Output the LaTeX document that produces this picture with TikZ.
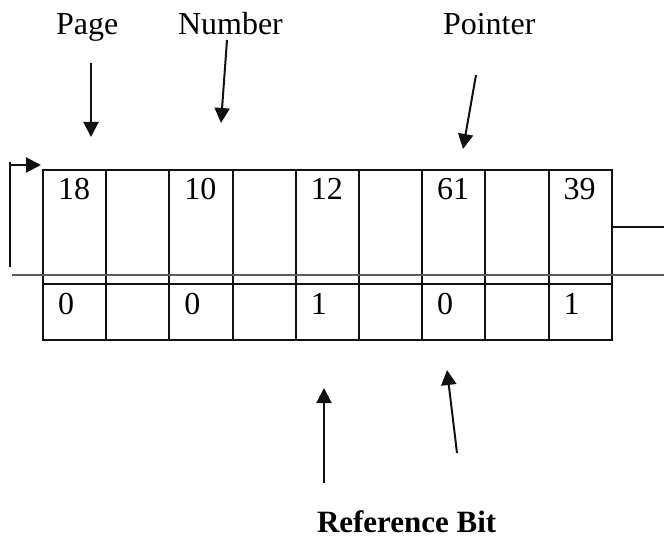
\documentclass[tikz,border=0pt]{standalone}
\usepackage{fontspec}
\setmainfont{Liberation Serif}
\usetikzlibrary{arrows.meta}
\definecolor{linea}{HTML}{111111}
\definecolor{gris}{HTML}{5A5A5A}

\begin{document}
\begin{tikzpicture}[x=1pt, y=-1pt, font=\fontsize{32}{38}\selectfont,
    line width=2pt, draw=linea,
    >={Triangle[length=15pt, width=15pt]},
    cell/.style={draw=linea, rectangle, minimum width=63.2pt, inner sep=0pt, outer sep=0pt},
    val/.style={anchor=base west, inner sep=0pt},
    lbl/.style={anchor=base west, inner sep=0pt}]
        \useasboundingbox (0,0) rectangle (664,540);
        % frames of the table
        \foreach \i in {1,...,9} {
          \node[cell, minimum height=114pt] (t\i) at ({43+63.2*(\i-0.5)}, 227) {};
          \node[cell, minimum height=56pt] (b\i) at ({43+63.2*(\i-0.5)}, 312) {};
        }
        \node[val] (p1) at ([xshift=14pt, yshift=-30pt]t1.north west) {18};
        \node[val] (p3) at ([xshift=14pt, yshift=-30pt]t3.north west) {10};
        \node[val] (p5) at ([xshift=14pt, yshift=-30pt]t5.north west) {12};
        \node[val] (p7) at ([xshift=14pt, yshift=-30pt]t7.north west) {61};
        \node[val] (p9) at ([xshift=14pt, yshift=-30pt]t9.north west) {39};
        \node[val] (r1) at ([xshift=14pt, yshift=-30pt]b1.north west) {0};
        \node[val] (r3) at ([xshift=14pt, yshift=-30pt]b3.north west) {0};
        \node[val] (r5) at ([xshift=14pt, yshift=-30pt]b5.north west) {1};
        \node[val] (r7) at ([xshift=14pt, yshift=-30pt]b7.north west) {0};
        \node[val] (r9) at ([xshift=14pt, yshift=-30pt]b9.north west) {1};
        % line across the table
        \coordinate (cruce-a) at (12,275);
        \coordinate (cruce-b) at (664,275);
        \draw[draw=gris] (cruce-a) -- (cruce-b);
        \coordinate (salida) at (664,227);
        \draw (t9.east) -- (salida);
        \coordinate (vuelta-a) at (10,267);
        \coordinate (vuelta-b) at (41,165);
        \draw[->] (vuelta-a) -- (10,162) (10,165) -- (vuelta-b);
        % labels on top
        \node[lbl] (page) at (55,35) {Page};
        \node[lbl] (number) at (177,35) {Number};
        \node[lbl] (pointer) at (442,35) {Pointer};
        \coordinate (pg-a) at (91,63);
        \coordinate (pg-b) at (91,137);
        \coordinate (nm-a) at (227,40);
        \coordinate (nm-b) at (221,123);
        \coordinate (pt-a) at (476,75);
        \coordinate (pt-b) at (463,149);
        \draw[->] (pg-a) -- (pg-b);
        \draw[->] (nm-a) -- (nm-b);
        \draw[->] (pt-a) -- (pt-b);
        % label below
        \node[lbl, font=\fontsize{31}{37}\selectfont\bfseries] (refbit) at (316,532) {Reference Bit};
        \coordinate (rb-a) at (324,483);
        \coordinate (rb-b) at (324,388);
        \coordinate (rc-a) at (457,453);
        \coordinate (rc-b) at (447,370);
        \draw[->] (rb-a) -- (rb-b);
        \draw[->] (rc-a) -- (rc-b);
      \end{tikzpicture}
\end{document}
